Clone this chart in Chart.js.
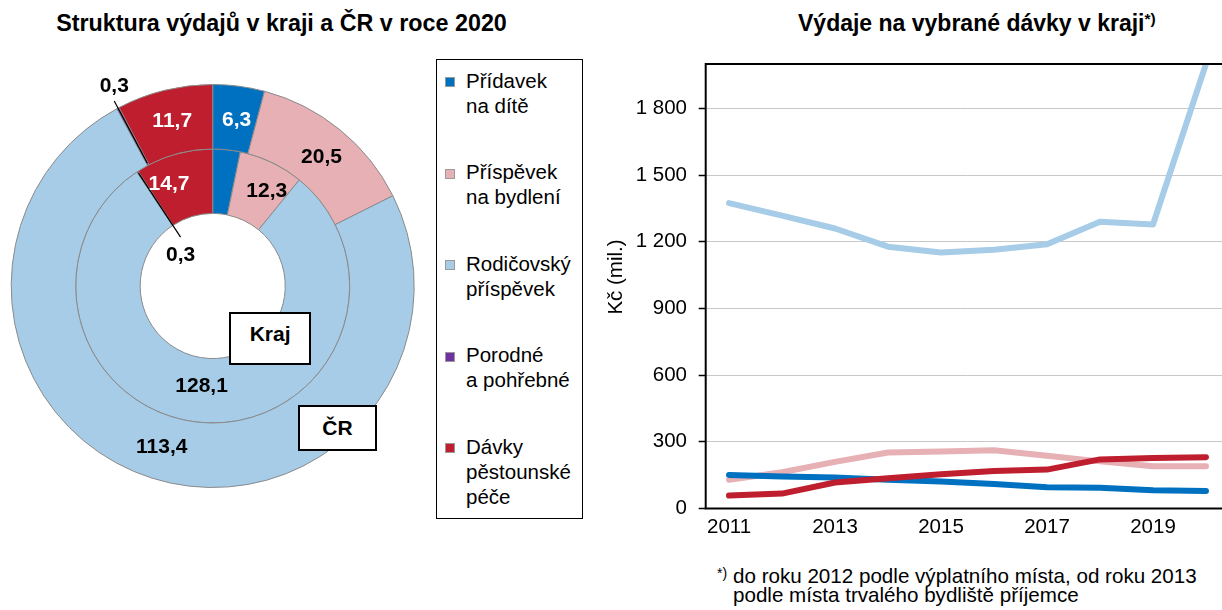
<!DOCTYPE html>
<html lang="cs">
<head>
<meta charset="utf-8">
<title>Struktura výdajů a výdaje na vybrané dávky</title>
<script src="https://cdn.jsdelivr.net/npm/chart.js@4.4.1/dist/chart.umd.min.js"></script>
<style>
html,body{margin:0;padding:0;width:1222px;height:610px;overflow:hidden;background:#fff;}
body{position:relative;font-family:"Liberation Sans",Arial,Helvetica,sans-serif;color:#000;}
.a{position:absolute;white-space:nowrap;}
#t1{left:0;width:563px;top:12px;text-align:center;font-weight:bold;font-size:23.3px;line-height:23px;}
#t2{left:798px;top:11.5px;font-weight:bold;font-size:23px;line-height:23px;}
#t2 sup{font-size:15.5px;vertical-align:7px;line-height:0;}
#donut{position:absolute;left:0;top:60px;}
#legend{left:436px;top:59px;width:147px;height:460px;border:1.5px solid #000;box-sizing:border-box;}
.mk{position:absolute;width:10px;height:10px;box-sizing:border-box;border:1px solid #9a9a9a;}
.lt{position:absolute;font-size:20.5px;line-height:25px;white-space:nowrap;}
.box{position:absolute;background:#fff;border:2px solid #000;box-sizing:border-box;text-align:center;font-weight:bold;font-size:21px;line-height:24px;padding-top:8.7px;}
#rc{position:absolute;left:600px;top:0;width:622px;height:610px;overflow:hidden;}
#line{position:absolute;left:0;top:40px;}
#fn{left:733px;top:566px;font-size:20.6px;line-height:19px;}
#fns{left:717px;top:566px;font-size:14px;line-height:14px;}
</style>
</head>
<body>
<div id="t1" class="a">Struktura výdajů v kraji a ČR v roce 2020</div>
<div id="t2" class="a">Výdaje na vybrané dávky v kraji<sup>*)</sup></div>
<canvas id="donut" width="426" height="452"></canvas>
<div id="legend" class="a"></div>
<div class="box" style="left:229.3px;top:311.7px;width:81.7px;height:53.3px;">Kraj</div>
<div class="box" style="left:298.3px;top:405px;width:78.4px;height:46px;">ČR</div>
<div id="rc"><canvas id="line" width="640" height="510"></canvas></div>
<div id="fns" class="a">*)</div>
<div id="fn" class="a">do roku 2012 podle výplatního místa, od roku 2013<br>podle místa trvalého bydliště příjemce</div>
<script>
// ---------- data ----------
const categories = ['Přídavek na dítě', 'Příspěvek na bydlení', 'Rodičovský příspěvek', 'Porodné a pohřebné', 'Dávky pěstounské péče'];
const categoryLines = [['Přídavek', 'na dítě'], ['Příspěvek', 'na bydlení'], ['Rodičovský', 'příspěvek'], ['Porodné', 'a pohřebné'], ['Dávky', 'pěstounské', 'péče']];
const crValues = [6.3, 20.5, 113.4, 0.3, 11.7];      // outer ring: ČR
const krajValues = [5.2, 12.3, 128.1, 0.3, 14.7];    // inner ring: Kraj

const years = [2011, 2012, 2013, 2014, 2015, 2016, 2017, 2018, 2019, 2020];
const pridavek = [151, 144, 139, 129, 121, 110, 96, 93, 82, 79];
const prispevek = [129, 163, 210, 252, 256, 262, 237, 212, 190, 190];
const rodicovsky = [1374, 1318, 1260, 1178, 1152, 1164, 1189, 1290, 1278, 2000];
const pestounske = [58, 67, 117, 136, 154, 169, 175, 221, 227, 231];

const yTicks = [0, 300, 600, 900, 1200, 1500, 1800];
const xTicks = [2011, 2013, 2015, 2017, 2019];
const yTitle = 'Kč (mil.)';

// ---------- styles ----------
const colors = ['#0070C0', '#E6B0B4', '#A6CCE8', '#7030A0', '#BE1E2D'];
const labelColors = ['#fff', '#000', '#000', '#000', '#fff'];
const FAMILY = '"Liberation Sans", Arial, Helvetica, sans-serif';

// ---------- legend (HTML, built from arrays) ----------
categoryLines.forEach((lines, i) => {
  const mk = document.createElement('div');
  mk.className = 'mk';
  mk.style.left = '445px';
  mk.style.top = (77 + i * 91.5) + 'px';
  mk.style.background = colors[i];
  document.body.appendChild(mk);
  const t = document.createElement('div');
  t.className = 'lt';
  t.style.left = '466px';
  t.style.top = (67.7 + i * 91.5) + 'px';
  lines.forEach((ln, k) => {
    if (k) t.appendChild(document.createElement('br'));
    t.appendChild(document.createTextNode(ln));
  });
  document.body.appendChild(t);
});

// ---------- doughnut ----------
const fmt1 = v => v.toFixed(1).replace('.', ',');
const donutLabels = {
  id: 'donutLabels',
  afterDatasetsDraw(chart, args, opts) {
    const ctx = chart.ctx;
    ctx.save();
    ctx.font = 'bold 21px ' + FAMILY;
    ctx.textAlign = 'center';
    ctx.textBaseline = 'middle';
    chart.data.datasets.forEach((ds, di) => {
      const meta = chart.getDatasetMeta(di);
      meta.data.forEach((arc, i) => {
        const p = arc.getProps(['x', 'y', 'startAngle', 'endAngle', 'innerRadius', 'outerRadius'], true);
        const mid = (p.startAngle + p.endAngle) / 2;
        const v = ds.data[i];
        const txt = fmt1(v);
        const c = Math.cos(mid), s = Math.sin(mid);
        if (v < 1) {
          const L = opts.leaders[di];
          const r0 = p.outerRadius + L.from, r1 = p.innerRadius + L.to;
          ctx.strokeStyle = '#000';
          ctx.lineWidth = 1.2;
          ctx.beginPath();
          ctx.moveTo(p.x + c * r0, p.y + s * r0);
          ctx.lineTo(p.x + c * r1, p.y + s * r1);
          ctx.stroke();
          const ra = L.labelAtOuter ? r0 : r1;
          ctx.fillStyle = '#000';
          ctx.fillText(txt, p.x + c * ra, p.y + s * ra + L.dy);
        } else {
          const r = (p.innerRadius + p.outerRadius) / 2;
          const n = (opts.nudge[di] || {})[i] || [0, 0];
          ctx.fillStyle = labelColors[i];
          ctx.fillText(txt, p.x + c * r + n[0], p.y + s * r + n[1]);
        }
      });
    });
    ctx.restore();
  }
};

new Chart(document.getElementById('donut'), {
  type: 'doughnut',
  data: {
    labels: categories,
    datasets: [
      { label: 'ČR', data: crValues, backgroundColor: colors, borderColor: '#8a8a8a', borderWidth: 1 },
      { label: 'Kraj', data: krajValues, backgroundColor: colors, borderColor: '#8a8a8a', borderWidth: 1 }
    ]
  },
  options: {
    responsive: false, animation: false, devicePixelRatio: 1,
    cutout: '36%',
    layout: { padding: { left: 10.7, right: 11.3, top: 24, bottom: 24 } },
    plugins: {
      legend: { display: false }, tooltip: { enabled: false },
      donutLabels: {
        leaders: [
          { from: 8, to: 2, labelAtOuter: true, dy: -15 },
          { from: -2, to: -14, labelAtOuter: false, dy: 18 }
        ],
        nudge: [
          { 0: [2, 2], 1: [2, 2] },
          { 1: [9, 0], 2: [-6, -4], 4: [-14, -1] }
        ]
      }
    }
  },
  plugins: [donutLabels]
});

// ---------- line chart ----------
const frame = {
  id: 'frame',
  afterDatasetsDraw(c) {
    const { ctx, chartArea: a } = c;
    ctx.save();
    ctx.strokeStyle = '#000';
    ctx.lineWidth = 2;
    ctx.strokeRect(a.left, a.top, a.right - a.left, a.bottom - a.top);
    // y-axis title
    ctx.translate(16.5, 237);
    ctx.rotate(-Math.PI / 2);
    ctx.fillStyle = '#000';
    ctx.font = '20.5px ' + FAMILY;
    ctx.textAlign = 'center';
    ctx.textBaseline = 'middle';
    ctx.fillText(yTitle, 0, 0);
    ctx.restore();
  }
};
const pts = arr => years.map((y, i) => ({ x: y, y: arr[i] }));
const fmtThousands = v => String(v).replace(/\B(?=(\d{3})+(?!\d))/g, ' ');

new Chart(document.getElementById('line'), {
  type: 'line',
  data: {
    datasets: [
      { label: categories[4], data: pts(pestounske), borderColor: colors[4], order: 0 },
      { label: categories[0], data: pts(pridavek), borderColor: colors[0], order: 1 },
      { label: categories[1], data: pts(prispevek), borderColor: colors[1], order: 2 },
      { label: categories[2], data: pts(rodicovsky), borderColor: colors[2], order: 3 }
    ]
  },
  options: {
    responsive: false, animation: false, devicePixelRatio: 1,
    layout: { padding: { top: 19.3, right: 10.7, left: 0, bottom: 0 } },
    elements: {
      line: { borderWidth: 6, tension: 0, borderCapStyle: 'round', borderJoinStyle: 'round', fill: false },
      point: { radius: 0, hoverRadius: 0 }
    },
    plugins: { legend: { display: false }, tooltip: { enabled: false } },
    scales: {
      x: {
        type: 'linear', min: 2010.56, max: 2020.44,
        afterFit(s) { s.height = 41.5; },
        afterBuildTicks(s) { s.ticks = xTicks.map(v => ({ value: v })); },
        grid: { display: false, drawTicks: false },
        border: { display: false },
        ticks: { padding: 7, color: '#000', font: { family: FAMILY, size: 20.5 }, autoSkip: false, maxRotation: 0, callback: v => String(v) }
      },
      y: {
        min: 0, max: 2000,
        afterFit(s) { s.width = 105.7; },
        afterBuildTicks(s) { s.ticks = yTicks.map(v => ({ value: v })); },
        grid: { color: '#c8c8c8', lineWidth: 1, tickColor: '#000', tickLength: 7, tickWidth: 1.5 },
        border: { display: false },
        ticks: { padding: 11.7, color: '#000', font: { family: FAMILY, size: 20.5 }, callback: v => fmtThousands(v) },
        title: { display: false }
      }
    }
  },
  plugins: [frame]
});
</script>
</body>
</html>
